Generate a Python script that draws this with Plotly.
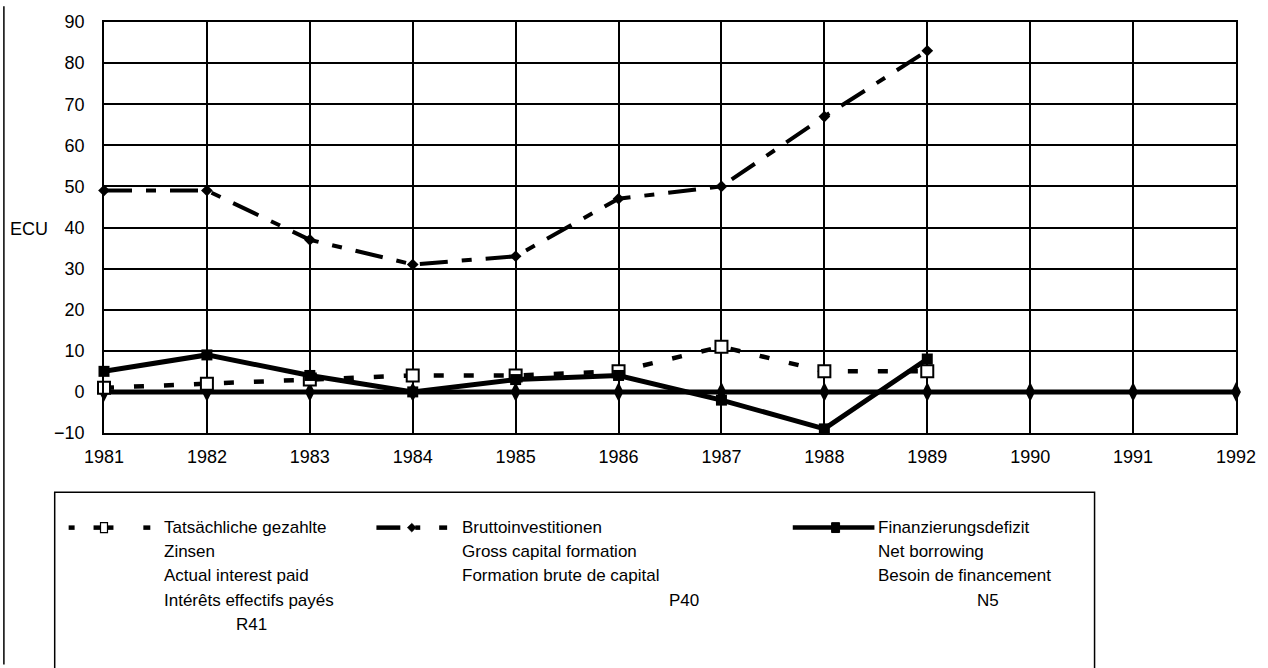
import plotly.graph_objects as go

# Data (ECU)
years = [1981, 1982, 1983, 1984, 1985, 1986, 1987, 1988, 1989, 1990, 1991, 1992]
interest_years = [1981, 1982, 1983, 1984, 1985, 1986, 1987, 1988, 1989]
interest_paid = [1, 2, 3, 4, 4, 5, 11, 5, 5]
capital_formation = [49, 49, 37, 31, 33, 47, 50, 67, 83]
net_borrowing = [5, 9, 4, 0, 3, 4, -2, -9, 8]
baseline = [0, 0, 0, 0, 0, 0, 0, 0, 0, 0, 0, 0]

y_ticks = [-10, 0, 10, 20, 30, 40, 50, 60, 70, 80, 90]

legend_lines = [
    ["Tatsächliche gezahlte", "Zinsen", "Actual interest paid", "Intérêts effectifs payés"],
    ["Bruttoinvestitionen", "Gross capital formation", "Formation brute de capital"],
    ["Finanzierungsdefizit", "Net borrowing", "Besoin de financement"],
]
legend_codes = ["R41", "P40", "N5"]

W, H = 1268, 668
L, R, T, B = 103.5, 28, 16, 235
PW, PH = W - L - R, H - T - B
FONT = "Liberation Sans, Arial, sans-serif"
TICK_SIZE = 18
LEG_SIZE = 17


def px(x):
    return (x - L) / PW


def py(y):
    return (H - B - y) / PH


fig = go.Figure()

fig.add_trace(go.Scatter(
    x=years, y=baseline, mode="lines+markers",
    line=dict(color="black", width=5),
    marker=dict(symbol="diamond-tall", size=14, color="black"),
    showlegend=False, cliponaxis=False))

fig.add_trace(go.Scatter(
    x=interest_years, y=capital_formation, mode="lines+markers",
    line=dict(color="black", width=4, dash="28px,14px,10px,14px"),
    marker=dict(symbol="diamond", size=9, color="black"),
    showlegend=False, cliponaxis=False))

fig.add_trace(go.Scatter(
    x=interest_years, y=interest_paid, mode="lines+markers",
    line=dict(color="black", width=4.5, dash="10px,20px"),
    marker=dict(symbol="square", size=12, color="white",
                line=dict(color="black", width=2)),
    showlegend=False, cliponaxis=False))

fig.add_trace(go.Scatter(
    x=interest_years, y=net_borrowing, mode="lines+markers",
    line=dict(color="black", width=5),
    marker=dict(symbol="square", size=11, color="black"),
    showlegend=False, cliponaxis=False))

shapes = []
annotations = []

# outer frame line on the left edge
shapes.append(dict(type="line", xref="paper", yref="paper",
                   x0=px(3), x1=px(3), y0=py(0), y1=py(H),
                   line=dict(color="black", width=1.5)))

# legend box (open at the bottom edge of the page)
shapes.append(dict(type="rect", xref="paper", yref="paper",
                   x0=px(54), x1=px(1098), y0=py(493), y1=py(H + 5),
                   line=dict(color="black", width=1.5), fillcolor="white"))

ly = 529
# sample 1: short dashes with open square
for a, b in [(68, 74), (93, 100), (107, 113), (143, 150)]:
    shapes.append(dict(type="line", xref="paper", yref="paper",
                       x0=px(a), x1=px(b), y0=py(ly), y1=py(ly),
                       line=dict(color="black", width=4.5)))
shapes.append(dict(type="rect", xref="paper", yref="paper",
                   x0=px(100), x1=px(107), y0=py(ly - 5), y1=py(ly + 5),
                   line=dict(color="black", width=1.2), fillcolor="white"))

# sample 2: long dash, diamond, short dashes
for a, b in [(377, 401), (416, 421), (440, 448)]:
    shapes.append(dict(type="line", xref="paper", yref="paper",
                       x0=px(a), x1=px(b), y0=py(ly), y1=py(ly),
                       line=dict(color="black", width=4.5)))
shapes.append(dict(type="path", xref="paper", yref="paper",
                   path=f"M {px(408)} {py(ly)} L {px(412.5)} {py(ly - 4.5)} L {px(417)} {py(ly)} L {px(412.5)} {py(ly + 4.5)} Z",
                   line=dict(color="black", width=0.5), fillcolor="black"))

# sample 3: solid with filled square
shapes.append(dict(type="line", xref="paper", yref="paper",
                   x0=px(795), x1=px(877), y0=py(ly), y1=py(ly),
                   line=dict(color="black", width=4.5)))
shapes.append(dict(type="rect", xref="paper", yref="paper",
                   x0=px(834), x1=px(842), y0=py(ly - 5), y1=py(ly + 5),
                   line=dict(color="black", width=1), fillcolor="black"))

text_x = [162, 461, 879]
code_x = [252, 686, 991]
step = 24.5
for col in range(3):
    for i, line in enumerate(legend_lines[col]):
        annotations.append(dict(xref="paper", yref="paper",
                                x=px(text_x[col]), y=py(ly + step * i),
                                text=line, showarrow=False,
                                xanchor="left", yanchor="middle",
                                font=dict(family=FONT, size=LEG_SIZE, color="black")))
    row = 4 if col == 0 else 3
    annotations.append(dict(xref="paper", yref="paper",
                            x=px(code_x[col]), y=py(ly + step * row),
                            text=legend_codes[col], showarrow=False,
                            xanchor="center", yanchor="middle",
                            font=dict(family=FONT, size=LEG_SIZE, color="black")))

# axis title
annotations.append(dict(xref="paper", yref="paper", x=px(7), y=py(226),
                        text="ECU", showarrow=False, xanchor="left", yanchor="middle",
                        font=dict(family=FONT, size=TICK_SIZE, color="black")))

fig.update_layout(
    width=W, height=H,
    margin=dict(l=L, r=R, t=T, b=B, pad=0),
    paper_bgcolor="white", plot_bgcolor="white",
    font=dict(family=FONT, size=TICK_SIZE, color="black"),
    shapes=shapes, annotations=annotations,
    showlegend=False,
)
fig.update_xaxes(range=[1981, 1992], tickvals=years, ticktext=[str(y) for y in years],
                 showgrid=True, gridcolor="black", gridwidth=1.8,
                 showline=True, linecolor="black", linewidth=1.8, mirror=True,
                 zeroline=False, ticks="", ticklabelstandoff=6,
                 tickfont=dict(family=FONT, size=TICK_SIZE, color="black"))
fig.update_yaxes(range=[-10, 90], tickvals=y_ticks,
                 showgrid=True, gridcolor="black", gridwidth=1.8,
                 showline=True, linecolor="black", linewidth=1.8, mirror=True,
                 zeroline=False, ticks="", ticklabelstandoff=14,
                 tickfont=dict(family=FONT, size=TICK_SIZE, color="black"))

fig.write_html("out.html")
